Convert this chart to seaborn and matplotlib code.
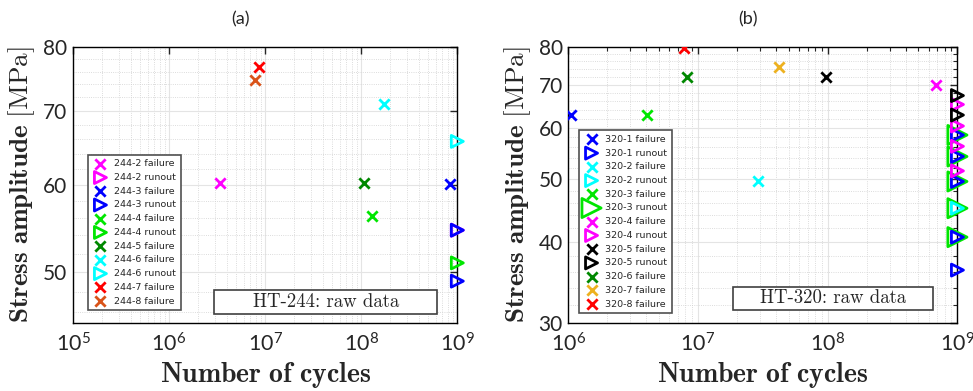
import matplotlib
matplotlib.use("Agg")
import matplotlib.pyplot as plt
import matplotlib.ticker as mticker
from matplotlib.patches import Rectangle
import seaborn as sns

# ---- HT-244 data (panel a) ----
f244_labels = ['244-2 failure', '244-3 failure', '244-4 failure', '244-5 failure',
               '244-6 failure', '244-7 failure', '244-8 failure']
f244_cycles = [[3.4e6], [8.45e8], [1.29e8], [1.07e8], [1.71e8], [8.7e6], [7.9e6]]
f244_stress = [[60.2], [60.1], [56.2], [60.3], [71.1], [76.7], [74.6]]
r244_labels = ['244-2 runout', '244-3 runout', '244-4 runout', '244-6 runout']
r244_stress = [[54.6], [54.6, 49.1], [51.0], [65.7]]
order244 = ['244-2 failure', '244-2 runout', '244-3 failure', '244-3 runout',
            '244-4 failure', '244-4 runout', '244-5 failure', '244-6 failure',
            '244-6 runout', '244-7 failure', '244-8 failure']

# ---- HT-320 data (panel b) ----
f320_labels = ['320-1 failure', '320-2 failure', '320-3 failure', '320-4 failure',
               '320-5 failure', '320-6 failure', '320-7 failure', '320-8 failure']
f320_cycles = [[1.05e6], [2.9e7], [4.07e6], [6.8e8], [9.75e7], [8.3e6], [4.2e7], [7.8e6]]
f320_stress = [[62.8], [49.6], [62.8], [69.8], [71.8], [71.8], [74.6], [79.7]]
r320_labels = ['320-1 runout', '320-2 runout', '320-3 runout', '320-4 runout', '320-5 runout']
r320_stress = [[58.5, 54.2, 49.6, 40.7, 36.2], [45.1],
               [58.5, 54.2, 49.6, 45.1, 40.7], [65.2, 60.4, 56.2, 51.5], [67.3, 62.8]]
order320 = ['320-1 failure', '320-1 runout', '320-2 failure', '320-2 runout',
            '320-3 failure', '320-3 runout', '320-4 failure', '320-4 runout',
            '320-5 failure', '320-5 runout', '320-6 failure', '320-7 failure',
            '320-8 failure']
runout_cycles = 1e9

colors = {'244-2': '#ff00ff', '244-3': '#0000ff', '244-4': '#00e600', '244-5': '#008800',
          '244-6': '#00ffff', '244-7': '#ff0000', '244-8': '#d95319',
          '320-1': '#0000ff', '320-2': '#00ffff', '320-3': '#00e600', '320-4': '#ff00ff',
          '320-5': '#000000', '320-6': '#008800', '320-7': '#edb120', '320-8': '#ff0000'}

sns.set_style("white")
plt.rcParams['font.family'] = ['Lato', 'DejaVu Sans']
plt.rcParams['mathtext.fontset'] = 'cm'

fig = plt.figure(figsize=(9.73, 3.91), dpi=100)
ax1 = fig.add_axes([0.075, 0.174, 0.395, 0.706])
ax2 = fig.add_axes([0.584, 0.174, 0.400, 0.706])


def draw_panel(ax, f_labels, f_cycles, f_stress, r_labels, r_stress, big=None):
    for lab, xs, ys in zip(f_labels, f_cycles, f_stress):
        sns.scatterplot(x=xs, y=ys, marker='x', s=55, linewidth=2,
                        color=colors[lab[:5]], label=lab, ax=ax, zorder=4)
    for lab, ys in zip(r_labels, r_stress):
        size = 190 if lab == big else 75
        sc = sns.scatterplot(x=[runout_cycles] * len(ys), y=ys, marker='>', s=size,
                             facecolors='none', edgecolor=colors[lab[:5]], linewidth=2,
                             label=lab, ax=ax, zorder=3 if lab == big else 5)
        sc.collections[-1].set_clip_on(False)


draw_panel(ax1, f244_labels, f244_cycles, f244_stress, r244_labels, r244_stress)
draw_panel(ax2, f320_labels, f320_cycles, f320_stress, r320_labels, r320_stress,
           big='320-3 runout')

ax1.set_xlim(1e5, 1e9)
ax1.set_ylim(45, 80)
ax2.set_xlim(1e6, 1e9)
ax2.set_ylim(30, 80)

for ax, yt in [(ax1, [50, 60, 70, 80]), (ax2, [30, 40, 50, 60, 70, 80])]:
    ax.set_xscale('log')
    ax.set_yscale('log')
    ax.yaxis.set_major_locator(mticker.FixedLocator(yt))
    ax.yaxis.set_major_formatter(mticker.FixedFormatter([str(v) for v in yt]))
    ax.yaxis.set_minor_locator(mticker.MultipleLocator(2))
    ax.yaxis.set_minor_formatter(mticker.NullFormatter())
    ax.xaxis.set_major_locator(mticker.LogLocator(base=10))
    ax.xaxis.set_minor_locator(mticker.LogLocator(base=10, subs=range(2, 10)))
    ax.xaxis.set_minor_formatter(mticker.NullFormatter())
    ax.tick_params(which='both', direction='in', top=True, right=True)
    ax.tick_params(axis='y', which='major', labelsize=15, pad=4)
    ax.tick_params(axis='x', which='major', labelsize=15.5, pad=7)
    ax.tick_params(which='major', length=5, width=1)
    ax.tick_params(which='minor', length=3, width=0.8)
    ax.grid(True, which='major', color='#e4e4e4', linestyle='-', linewidth=0.8)
    ax.grid(True, which='minor', color='#d0d0d0', linestyle=':', linewidth=0.6)
    ax.set_axisbelow(True)
    for sp in ax.spines.values():
        sp.set_color('black')
        sp.set_linewidth(1)
    ax.set_xlabel(r'$\mathbf{Number\ of\ cycles}$', fontsize=20)
    ax.set_ylabel(r'$\mathbf{Stress\ amplitude}\ \mathrm{[MPa]}$', fontsize=19.5)

ax1.tick_params(which='minor', length=0)
ax1.xaxis.set_label_coords(0.5, -0.135)
ax2.xaxis.set_label_coords(0.5, -0.135)
ax1.yaxis.set_label_coords(-0.093, 0.5)
ax2.yaxis.set_label_coords(-0.09, 0.5)


def make_legend(ax, order, anchor):
    handles, labels = ax.get_legend_handles_labels()
    hmap = dict(zip(labels, handles))
    leg = ax.legend([hmap[k] for k in order], order, loc='lower left',
                    bbox_to_anchor=anchor, prop={'family': 'DejaVu Sans', 'size': 6.8},
                    fancybox=False, framealpha=1,
                    edgecolor='#505050', labelspacing=0.5, handletextpad=0.6,
                    borderpad=0.5, handlelength=1.7)
    leg.get_frame().set_linewidth(1.2)
    leg.set_zorder(10)


make_legend(ax1, order244, (0.026, 0.029))
make_legend(ax2, order320, (0.015, 0.018))

for ax, txt, (x0, y0, w, h) in [(ax1, 'HT-244: raw data', (0.367, 0.033, 0.581, 0.087)),
                                (ax2, 'HT-320: raw data', (0.424, 0.047, 0.514, 0.083))]:
    ax.add_patch(Rectangle((x0, y0), w, h, transform=ax.transAxes, facecolor='white',
                           edgecolor='#404040', linewidth=1.2, zorder=6))
    ax.text(x0 + w / 2, y0 + h / 2, txt, transform=ax.transAxes, ha='center', va='center',
            fontsize=13.5, family='cmr10', zorder=7)

fig.text(240 / 973, 1 - 19 / 391, '(a)', ha='center', va='center', fontsize=13)
fig.text(748 / 973, 1 - 19 / 391, '(b)', ha='center', va='center', fontsize=13)

fig.savefig('out.png', dpi=100)
